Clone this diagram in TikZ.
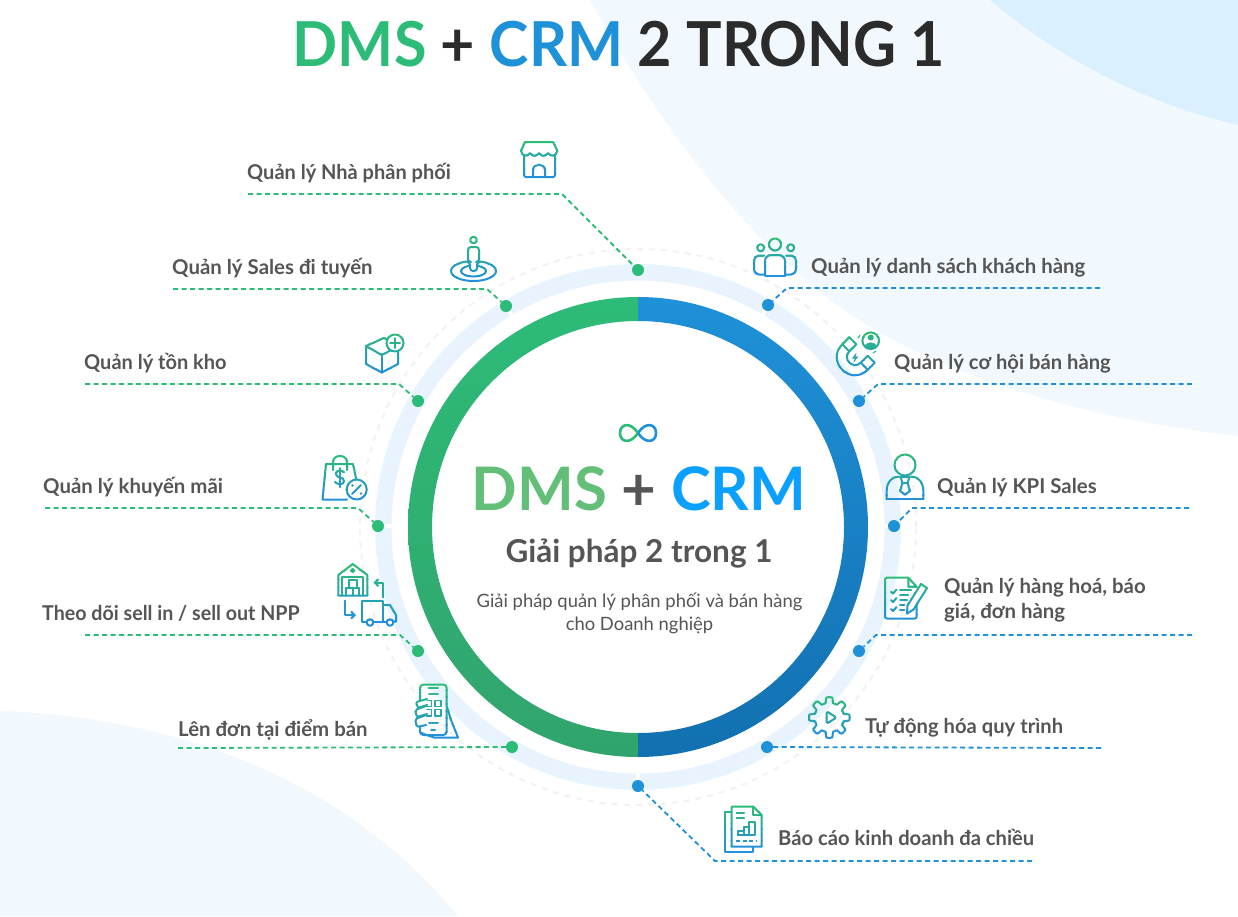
\documentclass[tikz,border=0pt]{standalone}
\usepackage{fontspec}
\setmainfont{Lato}
\usetikzlibrary{arrows.meta}
\definecolor{dmsgreen}{HTML}{2DBB78}
\definecolor{crmblue}{HTML}{1F91D8}
\definecolor{icongreen}{HTML}{2DBB78}
\definecolor{iconblue}{HTML}{2290DA}
\definecolor{labelgrey}{HTML}{555555}
\definecolor{titledark}{HTML}{2B2B2B}
\definecolor{palering}{HTML}{E8F3FE}
\definecolor{paleedge}{HTML}{E6F7FF}
\definecolor{bgpale}{HTML}{F2F9FE}
\definecolor{bgsky}{HTML}{DAF0FE}
\tikzset{
  gline/.style={draw=dmsgreen,line width=1.8pt,dash pattern=on 5pt off 3.5pt},
  bline/.style={draw=crmblue,line width=1.8pt,dash pattern=on 5pt off 3.5pt},
  gdot/.style={circle,fill=dmsgreen,inner sep=0pt,minimum size=12pt},
  bdot/.style={circle,fill=crmblue,inner sep=0pt,minimum size=12pt},
  lab/.style={anchor=base west,inner sep=0pt,text=labelgrey,font=\fontsize{20.4}{25}\selectfont\bfseries},
  titletext/.style={inner sep=0pt,font=\fontsize{62}{70}\selectfont\bfseries},
  ico/.style={draw=icocol,line width=2pt,line join=round,line cap=round},
  icofill/.style={fill=icocol,draw=none},
  tick/.style={draw=white,line width=3.5pt},
}
% icon strokes go from green at the top to blue at the bottom
\newcommand{\gradicon}[3]{%
  \foreach \k in {0,...,7}{%
    \begin{scope}
      \pgfmathsetmacro\ya{#1+(#2-#1)*\k/8-0.2}
      \pgfmathsetmacro\yb{#1+(#2-#1)*(\k+1)/8+0.2}
      \pgfmathsetmacro\mixv{100-\k*100/7}
      \colorlet{icocol}{icongreen!\mixv!iconblue}
      \clip (0,\ya) rectangle (1238,\yb);
      #3
    \end{scope}}}
\begin{document}
\begin{tikzpicture}[x=1pt,y=-1pt]
  \useasboundingbox (0,0) rectangle (1238,916);
  %%%%% BACKGROUND %%%%%
  \fill[white] (0,0) rectangle (1238,916);
  \fill[bgpale] (590,0) .. controls (640,90) and (720,215) .. (830,300) .. controls (930,375) and (1090,420) .. (1238,436) -- (1238,0) -- cycle;
  \fill[bgsky] (990,0) .. controls (1060,60) and (1150,105) .. (1238,125) -- (1238,0) -- cycle;
  \fill[bgpale] (0,711) .. controls (140,715) and (330,760) .. (458,916) -- (0,916) -- cycle;
  %%%%% TITLE %%%%%
  \node[titletext,anchor=base,xscale=0.957] (title) at (619,66) {\textcolor{dmsgreen}{DMS} \textcolor{titledark}{+} \textcolor{crmblue}{CRM} \textcolor{titledark}{2 TRONG 1}};
  %%%%% RINGS %%%%%
  \draw[line width=2pt,color=black!5,dash pattern=on 6pt off 6pt] (638,527) circle (278pt);
  \draw[line width=2pt,color=paleedge] (638,527) circle (262pt);
  \draw[line width=15pt,color=palering] (638,527) circle (254pt);
  \begin{scope}
    \clip (400,290) rectangle (638,770);
    \path[even odd rule,top color=dmsgreen,bottom color=dmsgreen!85!black!95] (638,527) circle (230pt) (638,527) circle (206pt);
  \end{scope}
  \begin{scope}
    \clip (638,290) rectangle (880,770);
    \path[even odd rule,top color=crmblue,bottom color={rgb,255:red,18;green,112;blue,176}] (638,527) circle (230pt) (638,527) circle (206pt);
  \end{scope}
  %%%%% CENTRE TEXT %%%%%
  \begin{scope}
    \clip (610,415) rectangle (638,450);
    \draw[line width=2.6pt,color=dmsgreen] (638,433) .. controls (630,421) and (620,424) .. (620,433) .. controls (620,442) and (630,445) .. (638,433) .. controls (646,421) and (656,424) .. (656,433) .. controls (656,442) and (646,445) .. (638,433);
  \end{scope}
  \begin{scope}
    \clip (638,415) rectangle (665,450);
    \draw[line width=2.6pt,color=crmblue] (638,433) .. controls (630,421) and (620,424) .. (620,433) .. controls (620,442) and (630,445) .. (638,433) .. controls (646,421) and (656,424) .. (656,433) .. controls (656,442) and (646,445) .. (638,433);
  \end{scope}
  \node[inner sep=0pt,anchor=base,font=\fontsize{60}{70}\selectfont\bfseries] (centretitle) at (639,510) {\textcolor[HTML]{63BF78}{DMS} \textcolor{labelgrey}{+} \textcolor[HTML]{0BA0FF}{CRM}};
  \node[inner sep=0pt,anchor=base,text=labelgrey,font=\fontsize{31.5}{36}\selectfont\bfseries] (centresub) at (639,562) {Giải pháp 2 trong 1};
  \node[inner sep=0pt,anchor=base,text=labelgrey,align=center,font=\fontsize{18.4}{23}\selectfont] (centrenote) at (639.5,630) {Giải pháp quản lý phân phối và bán hàng\\cho Doanh nghiệp};
  %%%%% DOTS %%%%%
  \draw[tick] (638,262) -- (638,272);
  \draw[tick] (506,306) -- (513,317);
  \draw[tick] (418,401) -- (429,408);
  \draw[tick] (378,526) -- (392,526);
  \draw[tick] (418,651) -- (429,645);
  \draw[tick] (512,746) -- (517,737);
  \draw[tick] (638,786) -- (638,772);
  \draw[tick] (767,746) -- (760,737);
  \draw[tick] (859,651) -- (848,645);
  \draw[tick] (894,526) -- (882,526);
  \draw[tick] (859,401) -- (848,408);
  \draw[tick] (768,305) -- (762,316);
  \node[gdot] (dotNhaPP) at (638,270) {};
  \node[gdot] (dotSales) at (506,306) {};
  \node[gdot] (dotKho) at (418,401) {};
  \node[gdot] (dotKM) at (378,526) {};
  \node[gdot] (dotSell) at (418,651) {};
  \node[gdot] (dotDon) at (512,747) {};
  \node[bdot] (dotBaoCao) at (638,786) {};
  \node[bdot] (dotQuyTrinh) at (767,747) {};
  \node[bdot] (dotHang) at (859,651) {};
  \node[bdot] (dotKPI) at (894,526) {};
  \node[bdot] (dotCoHoi) at (859,401) {};
  \node[bdot] (dotKH) at (768,305) {};
  %%%%% LEADERS %%%%%
  \coordinate (a1) at (248,194); \coordinate (a2) at (562,194);
  \coordinate (b1) at (173,289); \coordinate (b2) at (487,289);
  \coordinate (c1) at (85,384); \coordinate (c2) at (399,384);
  \coordinate (d1) at (45,508); \coordinate (d2) at (358,508);
  \coordinate (e1) at (85,635); \coordinate (e2) at (400,635);
  \coordinate (f1) at (178,748);
  \coordinate (g1) at (1100,288); \coordinate (g2) at (787,288);
  \coordinate (h1) at (1192,384); \coordinate (h2) at (878,384);
  \coordinate (i1) at (1189,508); \coordinate (i2) at (912,508);
  \coordinate (j1) at (1192,635); \coordinate (j2) at (876,635);
  \coordinate (k1) at (1101,748);
  \coordinate (l1) at (1032,861); \coordinate (l2) at (715,861);
  \draw[gline] (a1) -- (a2) -- (dotNhaPP);
  \draw[gline] (b1) -- (b2) -- (dotSales);
  \draw[gline] (c1) -- (c2) -- (dotKho);
  \draw[gline] (d1) -- (d2) -- (dotKM);
  \draw[gline] (e1) -- (e2) -- (dotSell);
  \draw[gline] (f1) -- (dotDon);
  \draw[bline] (g1) -- (g2) -- (dotKH);
  \draw[bline] (h1) -- (h2) -- (dotCoHoi);
  \draw[bline] (i1) -- (i2) -- (dotKPI);
  \draw[bline] (j1) -- (j2) -- (dotHang);
  \draw[bline] (k1) -- (dotQuyTrinh);
  \draw[bline] (l1) -- (l2) -- (dotBaoCao);
  %%%%% LABELS %%%%%
  \node[lab,xscale=0.98] (labNhaPP) at (247,179) {Quản lý Nhà phân phối};
  \node[lab] (labSales) at (172,274) {Quản lý Sales đi tuyến};
  \node[lab,xscale=0.98] (labKho) at (84,369) {Quản lý tồn kho};
  \node[lab] (labKM) at (43,493) {Quản lý khuyến mãi};
  \node[lab,xscale=0.963] (labSell) at (42,620) {Theo dõi sell in / sell out NPP};
  \node[lab] (labDon) at (178,736) {Lên đơn tại điểm bán};
  \node[lab] (labKH) at (811,273) {Quản lý danh sách khách hàng};
  \node[lab,xscale=0.99] (labCoHoi) at (894,369) {Quản lý cơ hội bán hàng};
  \node[lab] (labKPI) at (937,493) {Quản lý KPI Sales};
  \node[lab,align=left] (labHang) at (944,618) {Quản lý hàng hoá, báo\\giá, đơn hàng};
  \node[lab,xscale=0.99] (labQuyTrinh) at (865,733) {Tự động hóa quy trình};
  \node[lab,xscale=0.99] (labBaoCao) at (778,845) {Báo cáo kinh doanh đa chiều};
  %%%%% ICONS %%%%%
  % store
  \gradicon{140}{178}{
    \draw[ico] (525,142) -- (553,142) -- (557.5,151) .. controls (555,157) and (551,157) .. (548,153) .. controls (545,157) and (542,157) .. (539,153) .. controls (536,157) and (533,157) .. (530,153) .. controls (527,157) and (523,157) .. (521,151) -- cycle;
    \draw[ico,rounded corners=2pt] (524,155) -- (524,177) -- (555,177) -- (555,155);
    \draw[ico] (533,177) -- (533,170) .. controls (533,163) and (545,163) .. (545,170) -- (545,177);
  }
  % person on target
  \gradicon{236}{282}{
    \draw[ico] (473.5,271) ellipse (22.5pt and 10pt);
    \draw[ico] (473.5,271) ellipse (12.5pt and 5.5pt);
    \draw[ico] (473.5,240) circle (3.3pt);
    \draw[ico,fill=white,rounded corners=3pt] (470,271) -- (470,262) -- (468,262) -- (468,247) -- (479,247) -- (479,262) -- (477,262) -- (477,271) -- cycle;
  }
  % box with plus
  \gradicon{333}{374}{
    \draw[ico] (366,346) -- (384,338) -- (398,346) -- (398,364) -- (381.7,372.5) -- (366,364) -- cycle;
    \draw[ico] (366,346) -- (381.7,355) -- (398,346.5);
    \draw[ico] (381.7,355) -- (381.7,372.5);
    \draw[ico,fill=white] (395,343) circle (8.5pt);
    \draw[ico] (390,343) -- (400,343);
    \draw[ico] (395,338) -- (395,348);
  }
  % shopping bag with percent
  \gradicon{455}{501}{
    \draw[ico] (326,464) -- (353,464) -- (356,478);
    \draw[ico] (326,464) -- (322.5,499.5) -- (347,499.5);
    \draw[ico] (333,470) -- (333,462) .. controls (333,454) and (347,454) .. (347,462) -- (347,470);
    \draw[ico] (344,472) .. controls (340,469) and (335,471) .. (336,474.5) .. controls (337,478) and (344,477) .. (344,481) .. controls (344,485) and (338,485) .. (335,482);
    \draw[ico] (340,468) -- (340,487);
    \draw[ico,fill=white] (356.7,489.5) circle (10pt);
    \draw[ico] (352,494) -- (361,485);
    \fill[icofill] (352.5,485.5) circle (1.4pt);
    \fill[icofill] (361,493.5) circle (1.4pt);
  }
  % warehouse and truck
  \gradicon{563}{628}{
    \draw[ico] (338.3,575) -- (352.7,564) -- (367.3,575) -- (367.3,595.7) -- (338.3,595.7) -- cycle;
    \draw[ico] (342.3,595.7) -- (342.3,577.3) -- (363.3,577.3) -- (363.3,595.7);
    \draw[ico] (348.5,587.7) -- (348.5,580) -- (356.7,580) -- (356.7,587.7);
    \draw[ico] (346,595.7) -- (346,587.7) -- (359.3,587.7) -- (359.3,595.7);
    \draw[ico] (352.7,587.7) -- (352.7,595.7);
    \draw[ico] (352.7,570.5) circle (1.6pt);
    \draw[ico,-{Straight Barb[length=3.5pt,width=7pt]}] (382.7,597.3) -- (382.7,582.7) -- (373.5,582.7);
    \draw[ico,-{Straight Barb[length=3.5pt,width=7pt]}] (345,600.7) -- (345,615) -- (356,615);
    \draw[ico] (366,621.7) -- (361.7,621.7) -- (361.7,600.7) -- (383.3,600.7) -- (383.3,621.7) -- (374,621.7);
    \draw[ico] (383.3,605) -- (390,605) -- (396,615) -- (396,621.7) -- (394,621.7);
    \draw[ico] (383.3,621.7) -- (386,621.7);
    \draw[ico] (370,622.5) circle (3.3pt);
    \draw[ico] (390,622.5) circle (3.3pt);
  }
  % phone in hand
  \gradicon{683}{739}{
    \draw[ico,rounded corners=3.5pt] (420,684.5) rectangle (446.7,735);
    \draw[ico] (428.5,687.5) -- (438,687.5);
    \draw[ico,densely dotted] (429,693.5) -- (438,693.5);
    \draw[ico,line width=1.4pt] (425,700.7) rectangle (431.5,706.7);
    \draw[ico,line width=1.4pt] (435,700.7) rectangle (441,706.7);
    \draw[ico,line width=1.4pt] (425,709.5) rectangle (431.5,716);
    \draw[ico,line width=1.4pt] (435,709.5) rectangle (441,716);
    \draw[ico,densely dotted] (429,722.7) -- (438,722.7);
    \draw[ico] (431,730) -- (435,730);
    \draw[ico] (446.7,706) -- (451,720) -- (458,737.5) -- (434,737.5) -- (421,733);
    \draw[ico,fill=white,rounded corners=2pt] (427,699) -- (416,702) -- (418,708) -- (427,705);
    \draw[ico,fill=white,rounded corners=2pt] (426,706) -- (415,710) -- (417,717) -- (427,714);
    \draw[ico,fill=white,rounded corners=2pt] (426,715) -- (415,719) -- (417,727) -- (426,725);
  }
  % users
  \gradicon{237}{277}{
    \draw[ico] (775,244.5) circle (6pt);
    \draw[ico] (760.7,247.7) circle (3.5pt);
    \draw[ico] (790.7,247.7) circle (3.5pt);
    \draw[ico,rounded corners=6pt] (765,275.5) -- (765,255) -- (785,255) -- (785,275.5);
    \draw[ico,rounded corners=2pt] (765,275.5) -- (785,275.5);
    \draw[ico,rounded corners=5pt] (765,274.5) -- (754,274.5) -- (754,255.5) -- (764,255.5);
    \draw[ico,rounded corners=5pt] (785,274.5) -- (796,274.5) -- (796,255.5) -- (786,255.5);
  }
  % magnet with person
  \gradicon{331}{378}{
    \draw[ico] (849.3,337.3) -- (842.3,344.3) .. controls (825.3,361.3) and (850.7,386.7) .. (867.7,369.7) -- (874.7,362.7);
    \draw[ico] (856.3,344.3) -- (849.3,351.3) .. controls (841.8,358.8) and (853.2,370.2) .. (860.7,362.7) -- (867.7,355.7);
    \draw[ico] (849.3,337.3) -- (856.3,344.3);
    \draw[ico] (874.7,362.7) -- (867.7,355.7);
    \draw[ico] (842.3,344.3) -- (849.3,351.3);
    \draw[ico] (867.7,369.7) -- (860.7,362.7);
    \fill[icofill] (856.5,352.5) -- (852,358.5) -- (855,358.5) -- (853,363) -- (858.5,356.5) -- (855.5,356.5) -- cycle;
    \draw[ico,line width=1pt] (858,338) -- (860,335);
    \draw[ico,line width=1pt] (873,353) -- (876,351);
    \draw[ico] (870.7,340.7) circle (8.3pt);
    \fill[icofill] (870.7,337.5) circle (3pt);
    \fill[icofill] (864.5,346) .. controls (866,341.5) and (875.5,341.5) .. (877,346) .. controls (874,349.5) and (867.5,349.5) .. (864.5,346);
  }
  % person with tie
  \gradicon{454}{501}{
    \draw[ico] (905,465) circle (10.5pt);
    \draw[ico] (886.7,499.3) -- (886.7,491) .. controls (886.7,482) and (892,476.5) .. (899,476.5);
    \draw[ico] (923.3,499.3) -- (923.3,491) .. controls (923.3,482) and (918,476.5) .. (911,476.5);
    \draw[ico] (886.7,499.3) -- (923.3,499.3);
    \draw[ico] (900.5,477) -- (909.5,477) -- (907.5,483) -- (910,491) -- (905,494.5) -- (900,491) -- (902.5,483) -- cycle;
    \draw[ico] (902.5,483) -- (907.5,483);
  }
  % document with pen
  \gradicon{577}{620}{
    \draw[ico,rounded corners=2pt] (908.3,577.7) -- (885,577.7) -- (885,618.5) -- (916.7,618.5) -- (916.7,600);
    \draw[ico] (908.3,577.7) -- (908.3,586.7) -- (916.7,586.7) -- cycle;
    \draw[ico] (891,591.5) -- (893,593.5) -- (896.5,589.5);
    \draw[ico] (891,600) -- (893,602) -- (896.5,598);
    \draw[ico] (891,609) -- (893,611) -- (896.5,607);
    \draw[ico] (900,590) -- (911,590);
    \draw[ico] (900,595) -- (908,595);
    \draw[ico] (900,600) -- (907,600);
    \draw[ico] (900,605) -- (904,605);
    \draw[ico] (900,610) -- (904,610);
    \draw[ico,fill=white] (907,613.5) -- (907.5,605.5) -- (921,584) -- (927,588) -- (913.5,609.5) -- cycle;
  }
  % gear with play sign
  \gradicon{696}{739}{
    \draw[ico] plot[domain=0:360,samples=241] ({829.3+(17.5+2.8*max(min(2.4*cos(8*\x),1),-1))*cos(\x)},{717.5+(17.5+2.8*max(min(2.4*cos(8*\x),1),-1))*sin(\x)}) -- cycle;
    \draw[ico,rounded corners=1.5pt] (826.7,711.5) -- (826.7,723.5) -- (836.5,717.5) -- cycle;
  }
  % report pages
  \gradicon{806}{852}{
    \draw[ico] (731.5,811.7) -- (725.3,811.7) -- (725.3,851.7) -- (753.3,851.7) -- (753.3,846.7);
    \draw[ico,fill=white] (731.7,806.7) -- (753.3,806.7) -- (761.7,815) -- (761.7,846.7) -- (731.7,846.7) -- cycle;
    \draw[ico] (753.3,806.7) -- (753.3,815) -- (761.7,815);
    \draw[ico] (736.7,812.7) -- (744,812.7);
    \draw[ico] (736.7,817.7) -- (744,817.7);
    \draw[ico] (738,835) -- (738,830.5) -- (743.5,830.5) -- (743.5,835);
    \draw[ico] (743.5,830.5) -- (743.5,826.5) -- (749,826.5) -- (749,835);
    \draw[ico] (749,826.5) -- (749,821.5) -- (755,821.5) -- (755,835) -- (738,835);
    \draw[ico,dash pattern=on 4pt off 2.5pt,line cap=butt] (736,840.5) -- (757,840.5);
  }
  %%%%% END %%%%%
\end{tikzpicture}
\end{document}
